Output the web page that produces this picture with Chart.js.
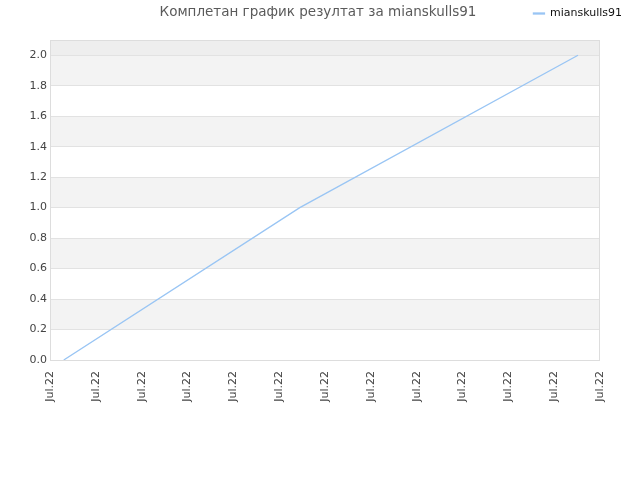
<!DOCTYPE html>
<html>
<head>
<meta charset="utf-8">
<script src="https://cdn.jsdelivr.net/npm/chart.js@4/dist/chart.umd.min.js"></script>
<style>
  html, body { margin: 0; padding: 0; background: #fff; }
  #wrap { width: 640px; height: 480px; }
</style>
</head>
<body>
<div id="wrap"><canvas id="resultChart"></canvas></div>
<script>
// podaci sa grafika
const playerName = "mianskulls91";
const xPositions = [0.3, 5.45, 11.52];
const resultValues = [0, 1, 2];
const xTickLabel = "Jul.22";

// pozadinske trake, okvir i naslov
const bandPlugin = {
  id: "bands",
  beforeLayout(chart) {
    // malo vise mesta ispod legende
    const lg = chart.legend;
    if (lg && !lg._patched) {
      const fit = lg.fit;
      lg.fit = function () { fit.call(this); this.height += 11; };
      lg._patched = true;
    }
  },
  beforeDraw(chart) {
    const { ctx, chartArea, scales } = chart;
    const y = scales.y;
    ctx.save();
    for (let v = 0.2; v < 2.0; v += 0.4) {
      const top = y.getPixelForValue(v + 0.2);
      const bot = y.getPixelForValue(v);
      ctx.fillStyle = "#f3f3f3";
      ctx.fillRect(chartArea.left, top, chartArea.right - chartArea.left, bot - top);
    }
    const t = y.getPixelForValue(2.0);
    ctx.fillStyle = "#eeeeee";
    ctx.fillRect(chartArea.left, chartArea.top, chartArea.right - chartArea.left, t - chartArea.top);
    ctx.restore();
  },
  afterDraw(chart) {
    const { ctx, chartArea } = chart;
    ctx.save();
    ctx.strokeStyle = "#dddddd";
    ctx.lineWidth = 1;
    ctx.strokeRect(chartArea.left + 0.5, chartArea.top + 0.5,
      chartArea.right - chartArea.left - 1, chartArea.bottom - chartArea.top);
    ctx.fillStyle = "#5a5a5a";
    ctx.font = "13.5px 'DejaVu Sans'";
    ctx.textAlign = "center";
    ctx.textBaseline = "middle";
    ctx.fillText("Комплетан график резултат за " + playerName, 318, 12);
    ctx.restore();
  }
};

const ctx1 = document.getElementById("resultChart").getContext("2d");

new Chart(ctx1, {
  type: "line",
  data: {
    datasets: [{
      label: playerName,
      data: xPositions.map((x, i) => ({ x: x, y: resultValues[i] })),
      borderColor: "#99c5f4",
      backgroundColor: "#99c5f4",
      borderWidth: 1.3,
      pointRadius: 0,
      tension: 0
    }]
  },
  options: {
    responsive: true,
    maintainAspectRatio: false,
    animation: false,
    layout: { padding: { left: 0, right: 10, top: 0, bottom: 0 } },
    plugins: {
      legend: {
        position: "top",
        align: "end",
        labels: {
          color: "#111",
          font: { family: "DejaVu Sans", size: 11 },
          boxWidth: 11,
          boxHeight: 1,
          padding: 8
        }
      },
      tooltip: { enabled: false }
    },
    scales: {
      x: {
        type: "linear",
        min: 0,
        max: 12,
        ticks: {
          stepSize: 1,
          autoSkip: false,
          maxRotation: 90,
          minRotation: 90,
          color: "#444",
          font: { family: "DejaVu Sans", size: 11 },
          callback: () => xTickLabel
        },
        grid: { display: false },
        border: { display: false },
        afterFit(scale) { scale.height = 120; }
      },
      y: {
        min: 0,
        max: 2.1,
        ticks: {
          stepSize: 0.2,
          color: "#444",
          font: { family: "DejaVu Sans", size: 11 },
          callback: (v) => v.toFixed(1)
        },
        afterBuildTicks(scale) {
          scale.ticks = scale.ticks.filter(t => t.value <= 2.0001);
        },
        grid: { color: "#e2e2e2", drawTicks: false },
        border: { display: false },
        afterFit(scale) { scale.width = 50; }
      },
      yRight: {
        position: "right",
        min: 0,
        max: 1,
        ticks: { display: false },
        grid: { display: false },
        border: { display: false },
        afterFit(scale) { scale.width = 30; }
      }
    }
  },
  plugins: [bandPlugin]
});
</script>
</body>
</html>
